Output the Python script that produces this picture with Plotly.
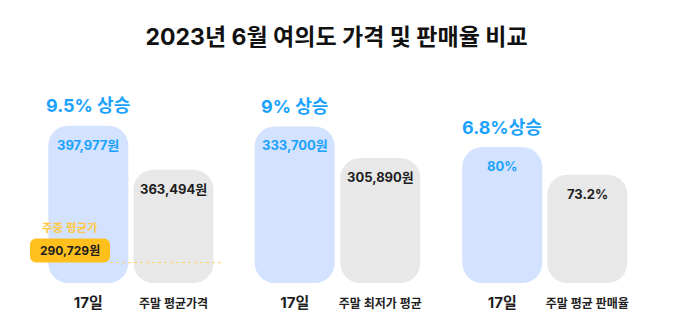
import plotly.graph_objects as go

# ---- data ----
title_text = "2023년 6월 여의도 가격 및 판매율 비교"
price_categories = ["17일", "주말 평균가격"]
price_values = [397977, 363494]
weekday_avg = 290729
weekday_label = "주중 평균가"

lowest_categories = ["17일", "주말 최저가 평균"]
lowest_values = [333700, 305890]

rate_categories = ["17일", "주말 평균 판매율"]
rate_values = [80, 73.2]

increase_labels = ["9.5% 상승", "9% 상승", "6.8%상승"]

# ---- style ----
W, H = 680, 331
MT, MB = 50, 48
PLOT_H = H - MT - MB
FONT = "Inter, Noto Sans CJK KR"
BLUE_BAR = "#D3E2FE"
GRAY_BAR = "#E8E8E8"
BLUE_TXT = "#1BA2FF"
DARK_TXT = "#1E1E1E"
YELLOW = "#FFC01E"
YELLOW_TXT = "#FFC844"

# panel pixel layout: (domain px left, domain px right, first category center px, spacing px)
panels = [(0, 228, 88.3, 85.2), (236, 452, 294.7, 85.6), (456, 680, 502.3, 85.0)]
yranges = [[274700, 457290], [195900, 400950], [46.62, 103.82]]
BAR_W_PX = 80

fig = go.Figure()

def fmt_won(v):
    return f"{v:,}원"

def fmt_pct(v):
    return f"{v:g}%"

datasets = [
    (price_categories, price_values, fmt_won),
    (lowest_categories, lowest_values, fmt_won),
    (rate_categories, rate_values, fmt_pct),
]

annotations = []
for i, ((cats, vals, fmt), (d0, d1, c0, sp), yr) in enumerate(zip(datasets, panels, yranges)):
    xa = "x" if i == 0 else f"x{i+1}"
    ya = "y" if i == 0 else f"y{i+1}"
    width_u = BAR_W_PX / sp
    fig.add_trace(go.Bar(
        x=cats, y=[v - yr[0] for v in vals], base=yr[0],
        xaxis=xa, yaxis=ya,
        width=width_u,
        marker=dict(color=[BLUE_BAR, GRAY_BAR], cornerradius=20, line=dict(width=0)),
        hoverinfo="skip", showlegend=False,
    ))
    xr = [(d0 - c0) / sp, (d1 - c0) / sp]
    axis_suffix = "" if i == 0 else str(i + 1)
    fig.update_layout({
        f"xaxis{axis_suffix}": dict(
            domain=[d0 / W, d1 / W], range=xr, type="category",
            showgrid=False, zeroline=False, showline=False, ticks="",
            tickvals=cats,
            ticktext=[f"<b>{cats[0]}</b>",
                      f"<span style='font-size:12px'><b>{cats[1]}</b></span>"],
            tickfont=dict(family=FONT, size=15, color=DARK_TXT),
            ticklabelstandoff=9, fixedrange=True,
        ),
        f"yaxis{axis_suffix}": dict(
            domain=[0, 1], range=yr, visible=False, fixedrange=True,
            anchor=xa,
        ),
    })
    if i > 0:
        fig.layout[f"xaxis{axis_suffix}"].anchor = ya
    # value labels inside bars
    for j, (c, v) in enumerate(zip(cats, vals)):
        annotations.append(dict(
            x=c, y=v, xref=xa, yref=ya, text=f"<b>{fmt(v)}</b>", showarrow=False,
            yanchor="middle", yshift=-19,
            font=dict(family=FONT, size=13, color=BLUE_TXT if j == 0 else DARK_TXT),
        ))
    # increase label above first bar
    annotations.append(dict(
        x=cats[0], y=vals[0], xref=xa, yref=ya, text=f"<b>{increase_labels[i]}</b>",
        showarrow=False, yanchor="middle", yshift=20,
        font=dict(family=FONT, size=18, color=BLUE_TXT),
    ))

# weekday average tag in panel 1
d0, d1, c0, sp = panels[0]
yr = yranges[0]
units_per_px = (yr[1] - yr[0]) / PLOT_H
tag_h = 24 * units_per_px
tag_left_px = 30
tag_offset = (tag_left_px - c0) / sp
tag_w = BAR_W_PX / sp
fig.add_trace(go.Bar(
    x=[price_categories[0]], y=[tag_h], base=weekday_avg,
    xaxis="x", yaxis="y", offset=tag_offset, width=tag_w,
    marker=dict(color=YELLOW, cornerradius=6, line=dict(width=0)),
    hoverinfo="skip", showlegend=False,
))
tag_center = tag_offset + tag_w / 2
annotations.append(dict(
    x=tag_center, y=weekday_avg, xref="x", yref="y", text=f"<b>{fmt_won(weekday_avg)}</b>",
    showarrow=False, yanchor="middle", yshift=12,
    font=dict(family=FONT, size=12, color=DARK_TXT),
))
annotations.append(dict(
    x=tag_center, y=weekday_avg, xref="x", yref="y", text=f"<b>{weekday_label}</b>",
    showarrow=False, yanchor="middle", yshift=35,
    font=dict(family=FONT, size=11.5, color=YELLOW_TXT),
))
line_x0 = (110 - c0) / sp
line_x1 = (223 - c0) / sp

fig.update_layout(
    width=W, height=H,
    margin=dict(l=0, r=0, t=MT, b=MB, pad=0),
    paper_bgcolor="white", plot_bgcolor="white",
    barmode="overlay",
    title=dict(text=f"<b>{title_text}</b>", x=0.495, xanchor="center", y=1 - 37 / H,
               yanchor="middle", font=dict(family=FONT, size=23, color="#111111")),
    annotations=annotations,
    shapes=[dict(type="line", xref="x", yref="y", x0=line_x0, x1=line_x1,
                 y0=weekday_avg, y1=weekday_avg,
                 line=dict(color="#FFD36B", width=1, dash="dot"), layer="above")],
    font=dict(family=FONT),
)

fig.write_html("out.html")
